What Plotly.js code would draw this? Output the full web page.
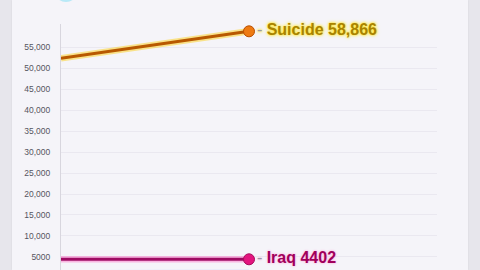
<!DOCTYPE html>
<html>
<head>
<meta charset="utf-8">
<script src="https://cdn.plot.ly/plotly-3.0.1.min.js"></script>
<style>
  html, body { margin: 0; padding: 0; width: 480px; height: 270px; overflow: hidden; background: #e7e6ec; }
  #card { position: absolute; left: 12px; top: 0; width: 456px; height: 270px; background: #f5f4f9; box-shadow: 0 0 2px rgba(0,0,0,0.08); }
  #chart { position: absolute; left: 0; top: 0; width: 480px; height: 270px; }
</style>
</head>
<body>
<div id="card"></div>
<div id="chart"></div>
<script>
// Data (frame positions along the time axis and cumulative counts)
const frames = [0, 1];
const suicide = [52420, 58866];
const iraq = [4390, 4402];
const afghanistan = [1060, 1135];
const seriesNames = ["Suicide", "Iraq", "Afghanistan"];
const endLabels = ["Suicide 58,866", "Iraq 4402", "Afghanistan 1135"];
const tickValues = [5000, 10000, 15000, 20000, 25000, 30000, 35000, 40000, 45000, 50000, 55000];
const tickLabels = ["5000", "10,000", "15,000", "20,000", "25,000", "30,000", "35,000", "40,000", "45,000", "50,000", "55,000"];

const styles = [
  {line: "#b85800", glow: "rgba(255,205,0,0.45)", dot: "#ee7a12", dotLine: "#b84e00", text: "#a98300", shadow: "0 0 2px #ffe640, 0 0 3px #ffe640, 0 0 4px #fff07a"},
  {line: "#9e0b63", glow: "rgba(255,90,190,0.40)", dot: "#e3147f", dotLine: "#a80a5c", text: "#a0005b", shadow: "0 0 2px #ffb0de, 0 0 3px #ffc8e8"},
  {line: "#1b2372", glow: "rgba(120,140,255,0.35)", dot: "#1f2a8a", dotLine: "#121a5e", text: "#1b2470", shadow: "0 0 2px #c8d0ff, 0 0 3px #d8deff"}
];
const allSeries = [suicide, iraq, afghanistan];

const traces = [];
allSeries.forEach((vals, i) => {
  const s = styles[i];
  traces.push({x: frames, y: vals, mode: "lines", line: {color: s.glow, width: 6.5}, hoverinfo: "skip", showlegend: false});
  traces.push({x: frames, y: vals, mode: "lines", line: {color: s.line, width: 3}, name: seriesNames[i], showlegend: false});
});
allSeries.forEach((vals, i) => {
  const s = styles[i];
  const last = vals.length - 1;
  traces.push({
    x: [frames[last]], y: [vals[last]], mode: "markers+text",
    marker: {size: 11, color: s.dot, line: {color: s.dotLine, width: 1}},
    text: ["<span style='color:#9a98a6;font-weight:normal'>-</span> " + endLabels[i]],
    textposition: "middle right",
    textfont: {family: "Liberation Sans, Arial, sans-serif", size: 16, color: s.text, weight: 700, shadow: s.shadow},
    cliponaxis: false, showlegend: false
  });
});

const layout = {
  width: 480, height: 270,
  margin: {l: 61, r: 43, t: 24, b: 0, pad: 0},
  paper_bgcolor: "rgba(0,0,0,0)",
  plot_bgcolor: "rgba(0,0,0,0)",
  showlegend: false,
  xaxis: {range: [0, 2], showgrid: false, zeroline: false, showticklabels: false, showline: false, ticks: ""},
  yaxis: {
    range: [1847, 60614],
    tickvals: tickValues, ticktext: tickLabels,
    tickfont: {family: "Liberation Sans, Arial, sans-serif", size: 8.5, color: "#55545f"},
    gridcolor: "#eae8f0", gridwidth: 1,
    showline: true, linecolor: "#d8d6de", linewidth: 1,
    zeroline: false, ticks: "", ticklabelstandoff: 8
  },
  shapes: [
    {type: "circle", xref: "paper", yref: "paper", layer: "above",
     x0: (55 - 61) / 376, x1: (77 - 61) / 376, y0: (270 - 2) / 246, y1: (270 + 18) / 246,
     fillcolor: "rgba(110,220,245,0.45)", line: {width: 0}}
  ]
};

Plotly.newPlot("chart", traces, layout, {staticPlot: true, displayModeBar: false});
</script>
</body>
</html>
